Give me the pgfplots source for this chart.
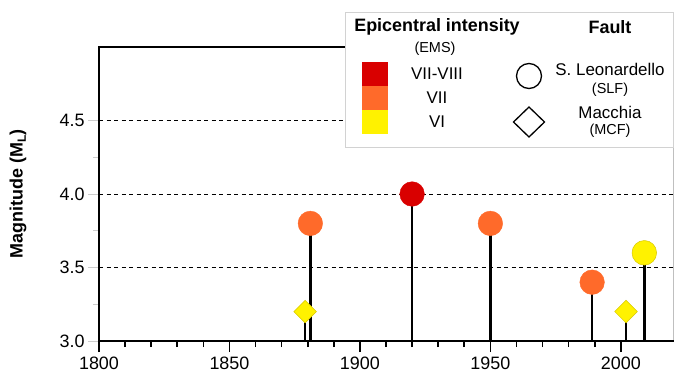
\documentclass[border=0pt]{standalone}
\usepackage{pgfplots}
\pgfplotsset{compat=1.18}
\usepackage{fontspec}
\setmainfont{Liberation Sans}
\definecolor{cred}{HTML}{D90000}
\definecolor{corange}{HTML}{FF6A2A}
\definecolor{cyellow}{HTML}{FFF200}
\definecolor{cyedge}{HTML}{D8C800}
\begin{document}
\begin{tikzpicture}
\begin{axis}[
  scale only axis, width=574bp, height=294bp,
  xmin=1800, xmax=2020, ymin=3, ymax=5,
  axis x line*=bottom, axis y line*=left,
  axis line style={line width=2.2bp, -},
  xtick={1800,1850,...,2000}, minor x tick num=4,
  ytick={3,3.5,4,4.5}, minor y tick num=1,
  tick align=outside, tick pos=left,
  major tick length=11bp, minor tick length=6bp,
  x tick style={black, line width=1.6bp},
  y tick style={gray!40, line width=0.8bp},
  xticklabel style={yshift=-1bp},
  /pgf/number format/assume math mode=true,
  /pgf/number format/.cd, fixed, fixed zerofill, precision=1, 1000 sep={}, /pgfplots/.cd,
  xticklabel={\pgfmathprintnumber[fixed, precision=0, 1000 sep={}]{\tick}},
  tick label style={font=\fontsize{18}{20}\selectfont},
  ymajorgrids, grid style={black, dash pattern=on 4bp off 3.5bp, line width=1bp},
  ylabel={\textbf{Magnitude (M}\raisebox{-0.35ex}{\fontsize{12}{12}\selectfont\bfseries L}\textbf{)}},
  ylabel style={font=\fontsize{18}{20}\selectfont, at={(axis description cs:-0.141,0.5)}, anchor=center},
]
\addplot[ycomb, black, line width=2.6bp, no markers]
  coordinates {(1879,3.2) (1881,3.8) (1920,4.0) (1950,3.8) (1989,3.4) (2002,3.2) (2009,3.6)};
\addplot[only marks, mark=*, mark size=12.3bp, color=corange]
  coordinates {(1881,3.8) (1950,3.8) (1989,3.4)};
\addplot[only marks, mark=*, mark size=12.3bp, color=cred]
  coordinates {(1920,4.0)};
\addplot[only marks, mark=*, mark size=12.3bp, mark options={draw=cyedge, line width=0.5bp, fill=cyellow}]
  coordinates {(2009,3.6)};
\addplot[only marks, mark=square*, mark size=8bp, mark options={rotate=45, draw=cyedge, line width=0.5bp, fill=cyellow}]
  coordinates {(1879,3.2) (2002,3.2)};
\end{axis}
\draw[gray!50, line width=0.8bp] (current axis.south east) -- (current axis.north east);
\draw[black, line width=2.4bp, line cap=rect, line join=miter] (current axis.south east) -- (current axis.south west) -- (current axis.north west) -- (current axis.north east);
\begin{scope}[shift={(current axis.north west)}, xshift=-99bp, yshift=47bp, x=1bp, y=-1bp]
  \path (0,0) rectangle (675,378);
  \draw[gray!35, line width=0.8bp, fill=white] (345,12) rectangle (673,147);
  \node[font=\fontsize{18}{20}\selectfont\bfseries] at (437,27) {Epicentral intensity};
  \node[font=\fontsize{14.5}{16}\selectfont] at (435,49) {(EMS)};
  \fill[cred] (362,62) rectangle (388,86);
  \fill[corange] (362,86) rectangle (388,110);
  \fill[cyellow] (362,110) rectangle (388,134);
  \node[font=\fontsize{17}{19}\selectfont] at (437,74) {VII-VIII};
  \node[font=\fontsize{17}{19}\selectfont] at (437,98) {VII};
  \node[font=\fontsize{17}{19}\selectfont] at (437,122) {VI};
  \node[font=\fontsize{18}{20}\selectfont\bfseries] at (610,27) {Fault};
  \draw[black, line width=1.3bp] (529,76) circle (12.5);
  \draw[black, line width=1.3bp] (529,107) -- (544.5,122) -- (529,137) -- (513.5,122) -- cycle;
  \node[font=\fontsize{17}{19}\selectfont] at (610,69) {S. Leonardello};
  \node[font=\fontsize{14.5}{16}\selectfont] at (610,90) {(SLF)};
  \node[font=\fontsize{17}{19}\selectfont] at (610,112) {Macchia};
  \node[font=\fontsize{14.5}{16}\selectfont] at (610,131) {(MCF)};
\end{scope}
\end{tikzpicture}
\end{document}
